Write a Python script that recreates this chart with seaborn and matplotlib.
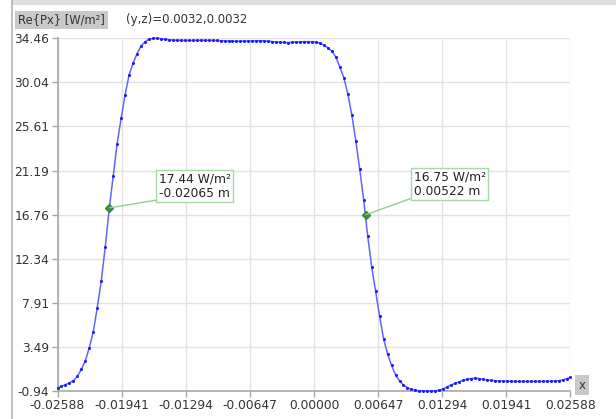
import numpy as np
import pandas as pd
import matplotlib
matplotlib.use("Agg")
import matplotlib.pyplot as plt
from matplotlib.patches import Rectangle
from matplotlib.lines import Line2D
import seaborn as sns

# ---------------- data ----------------
x_start, x_end, n_pts = -0.02588, 0.02588, 130
x_vals = np.linspace(x_start, x_end, n_pts)
px_vals = [
    -0.63, -0.45, -0.30, -0.13, 0.11, 0.53, 1.25, 2.10, 3.42, 5.02,
    7.43, 10.10, 13.49, 17.32, 20.61, 23.90, 26.44, 28.78, 30.77, 31.97,
    32.91, 33.66, 34.11, 34.38, 34.45, 34.46, 34.43, 34.37, 34.31, 34.28,
    34.26, 34.25, 34.24, 34.24, 34.25, 34.25, 34.26, 34.26, 34.25, 34.25,
    34.24, 34.22, 34.20, 34.18, 34.17, 34.16, 34.17, 34.18, 34.19, 34.21,
    34.22, 34.22, 34.20, 34.17, 34.13, 34.09, 34.06, 34.04, 34.03, 34.05,
    34.08, 34.11, 34.13, 34.12, 34.13, 34.08, 33.99, 33.76, 33.51, 33.16,
    32.57, 31.57, 30.52, 28.88, 26.79, 24.20, 21.31, 18.22, 14.63, 11.54,
    9.05, 6.56, 4.27, 2.78, 1.63, 0.68, 0.09, -0.33, -0.61, -0.78,
    -0.87, -0.92, -0.94, -0.94, -0.93, -0.91, -0.87, -0.71, -0.53, -0.34,
    -0.16, -0.01, 0.12, 0.23, 0.31, 0.35, 0.31, 0.24, 0.17, 0.12,
    0.09, 0.07, 0.05, 0.04, 0.03, 0.03, 0.02, 0.02, 0.02, 0.02,
    0.02, 0.03, 0.03, 0.04, 0.05, 0.06, 0.09, 0.17, 0.29, 0.42,
]
x_ticks = [-0.02588, -0.01941, -0.01294, -0.00647, 0.0, 0.00647, 0.01294, 0.01941, 0.02588]
x_tick_labels = ["-0.02588", "-0.01941", "-0.01294", "-0.00647", "0.00000",
                 "0.00647", "0.01294", "0.01941", "0.02588"]
y_ticks = [-0.94, 3.49, 7.91, 12.34, 16.76, 21.19, 25.61, 30.04, 34.46]
y_tick_labels = ["-0.94", "3.49", "7.91", "12.34", "16.76", "21.19", "25.61", "30.04", "34.46"]
mark_x = [-0.02065, 0.00522]
mark_y = [17.44, 16.75]
mark_labels = ["17.44 W/m²\n-0.02065 m", "16.75 W/m²\n0.00522 m"]
title_text = "Re{Px} [W/m²]"
coord_text = "(y,z)=0.0032,0.0032"
axis_name = "x"

df = pd.DataFrame({"x": x_vals, "Px": px_vals})

# ---------------- figure ----------------
sns.set_style("white")
plt.rcParams["font.family"] = ["DejaVu Sans"]
W, H = 616, 419
fig = plt.figure(figsize=(W / 100, H / 100), dpi=100)
L, R, T, B = 57.5, 570.5, 38.3, 391.0
ax = fig.add_axes([L / W, 1 - B / H, (R - L) / W, (B - T) / H])

# frame decorations
fig.add_artist(Rectangle((12 / W, 1 - 5 / H), 1, 5 / H, transform=fig.transFigure,
                         facecolor="#dedede", edgecolor="none"))
fig.add_artist(Line2D([12 / W, 12 / W], [0, 1], transform=fig.transFigure,
                      color="#b5b5b5", lw=1.2))

sns.lineplot(data=df, x="x", y="Px", ax=ax, color="#6464ff", lw=1.1,
             marker="o", markersize=2.2, markerfacecolor="#1a1aff",
             markeredgecolor="#1a1aff", markeredgewidth=0, clip_on=False, zorder=3)

ax.set_xlim(x_start, x_end)
ax.set_ylim(-0.94, 34.46)
ax.set_xticks(x_ticks)
ax.set_xticklabels(x_tick_labels)
ax.set_yticks(y_ticks)
ax.set_yticklabels(y_tick_labels)
ax.set_xlabel("")
ax.set_ylabel("")
ax.grid(True, color="#e2e2e2", lw=1.0)
ax.set_axisbelow(True)
for s in ["top", "right"]:
    ax.spines[s].set_visible(False)
for s in ["left", "bottom"]:
    ax.spines[s].set_color("#a8a8a8")
    ax.spines[s].set_linewidth(1.2)
ax.tick_params(axis="both", which="both", direction="out", length=4, width=1,
               color="#a8a8a8", labelsize=8.8, labelcolor="#333333", pad=2,
               left=True, bottom=True)

# annotations
offsets = [(35.5, 5.8), (34.4, 12.4)]
for mx, my, lab, off in zip(mark_x, mark_y, mark_labels, offsets):
    ax.plot([mx], [my], marker="D", ms=4.5, color="#3a8a3a", zorder=5, clip_on=False)
    ax.annotate(lab, xy=(mx, my), xytext=off, textcoords="offset points",
                ha="left", va="bottom", fontsize=8.8, color="#222222",
                linespacing=1.15,
                bbox=dict(boxstyle="square,pad=0.2", fc="white", ec="#a6d9a6", lw=1),
                arrowprops=dict(arrowstyle="-", color="#8fd08f", lw=1,
                                relpos=(0, 0), shrinkA=0, shrinkB=0),
                zorder=6)

# header texts
fig.text(18 / W, 1 - 20 / H, title_text, ha="left", va="center", fontsize=8.3,
         color="#333333",
         bbox=dict(boxstyle="square,pad=0.25", fc="#c9c9c9", ec="none"))
fig.text(126 / W, 1 - 20 / H, coord_text, ha="left", va="center", fontsize=8.5,
         color="#333333")
fig.text(582 / W, 1 - 385 / H, axis_name, ha="center", va="center", fontsize=8.5,
         color="#333333",
         bbox=dict(boxstyle="square,pad=0.3", fc="#c9c9c9", ec="none"))

fig.savefig("out.png", dpi=100)
